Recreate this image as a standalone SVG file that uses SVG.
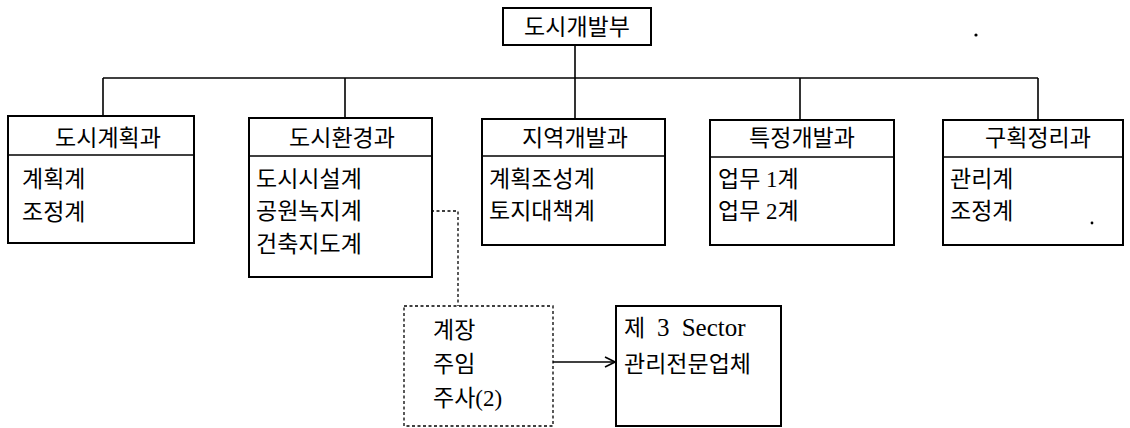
<svg xmlns="http://www.w3.org/2000/svg" width="1130" height="428" viewBox="0 0 1130 428">
<defs>
<style>
.box{fill:#fff;stroke:#000;stroke-width:2}
.div{stroke:#000;stroke-width:1.6}
.con{fill:none;stroke:#000;stroke-width:1.6}
.dot{fill:none;stroke:#000;stroke-width:1.3;stroke-dasharray:3 2.5}
text{font-family:"Liberation Serif","Noto Sans CJK KR",serif;font-size:23px;fill:#000}
.h{text-anchor:middle}
</style>
<marker id="arr" viewBox="0 0 12 12" refX="11" refY="6" markerWidth="12" markerHeight="12" markerUnits="userSpaceOnUse" orient="auto">
<path d="M1,1 L11,6 L1,11" fill="none" stroke="#000" stroke-width="1.6"/>
</marker>
</defs>
<rect width="1130" height="428" fill="#fff"/>
<g id="connectors">
<line class="con" x1="575" y1="45" x2="575" y2="78"/>
<line class="con" x1="103" y1="78" x2="1038" y2="78"/>
<line class="con" x1="103" y1="78" x2="103" y2="116"/>
<line class="con" x1="345" y1="78" x2="345" y2="118"/>
<line class="con" x1="575" y1="78" x2="575" y2="119"/>
<line class="con" x1="800" y1="78" x2="800" y2="120"/>
<line class="con" x1="1038" y1="78" x2="1038" y2="120"/>
<polyline class="dot" points="387,211 458,211 458,306"/>
<line class="con" x1="553" y1="362" x2="615" y2="362" marker-end="url(#arr)"/>
</g>
<g id="n-top">
<rect class="box" x="503" y="8" width="148" height="37"/>
<text class="h" x="577" y="35">도시개발부</text>
</g>
<g id="n-plan">
<rect class="box" x="8" y="116" width="186" height="127"/>
<line class="div" x1="8" y1="155" x2="194" y2="155"/>
<text class="h" x="108" y="146">도시계획과</text>
<text x="22" y="187">계획계</text>
<text x="22" y="220">조정계</text>
</g>
<g id="n-env">
<rect class="box" x="249" y="118" width="183" height="159"/>
<line class="div" x1="249" y1="156" x2="432" y2="156"/>
<text class="h" x="342" y="146">도시환경과</text>
<text x="256" y="187">도시시설계</text>
<text x="256" y="219">공원녹지계</text>
<text x="256" y="252">건축지도계</text>
</g>
<g id="n-region">
<rect class="box" x="482" y="119" width="183" height="126"/>
<line class="div" x1="482" y1="156" x2="665" y2="156"/>
<text class="h" x="575" y="146">지역개발과</text>
<text x="489" y="187">계획조성계</text>
<text x="489" y="219">토지대책계</text>
</g>
<g id="n-special">
<rect class="box" x="710" y="120" width="184" height="125"/>
<line class="div" x1="710" y1="157" x2="894" y2="157"/>
<text class="h" x="802" y="146">특정개발과</text>
<text x="718" y="187">업무 1계</text>
<text x="718" y="219">업무 2계</text>
</g>
<g id="n-land">
<rect class="box" x="943" y="120" width="180" height="125"/>
<line class="div" x1="943" y1="157" x2="1123" y2="157"/>
<text class="h" x="1038" y="146">구획정리과</text>
<text x="950" y="187">관리계</text>
<text x="950" y="219">조정계</text>
</g>
<g id="n-staff">
<rect class="dot" x="404" y="306" width="149" height="120"/>
<text x="433" y="338">계장</text>
<text x="433" y="372">주임</text>
<text x="433" y="406">주사(2)</text>
</g>
<g id="n-sector">
<rect class="box" x="616" y="306" width="165" height="120"/>
<text x="624" y="336" style="word-spacing:6px">제 <tspan style="font-size:25px">3 Sector</tspan></text>
<text x="624" y="372">관리전문업체</text>
</g>
<circle cx="976" cy="35" r="1.6" fill="#000"/>
<circle cx="1092" cy="223" r="1.4" fill="#000"/>
</svg>
